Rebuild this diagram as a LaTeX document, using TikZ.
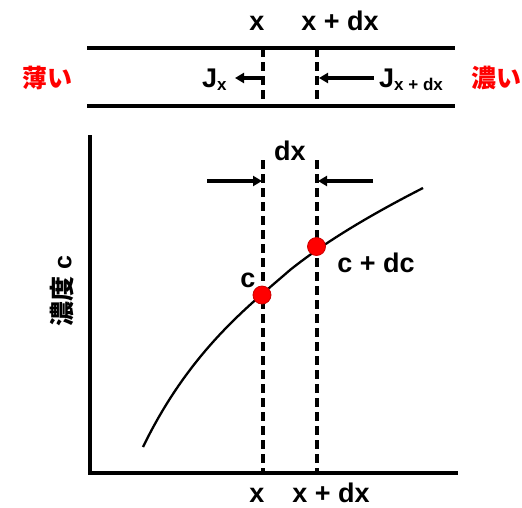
\documentclass[tikz,border=0pt]{standalone}
\usepackage{fontspec}
\setmainfont{Liberation Sans}
\newfontfamily\jpfont{Noto Sans CJK JP}
\usetikzlibrary{arrows.meta}
\tikzset{
  lbl/.style={font=\fontsize{27}{28}\selectfont\bfseries, inner sep=0pt},
  jp/.style={font=\fontsize{25}{26}\selectfont\jpfont\bfseries, inner sep=0pt, text=red},
  solidline/.style={line width=3.4pt},
  dashline/.style={line width=3.1pt, dash pattern=on 9pt off 5pt},
  flux/.style={line width=3.2pt, -{Triangle[length=9pt,width=10pt]}},
  pt/.style={circle, fill=red, draw=red!80!black, line width=0.8pt, minimum size=18pt, inner sep=0pt},
}
\begin{document}
\begin{tikzpicture}[x=1pt,y=-1pt]
\useasboundingbox (0,0) rectangle (522,507);
% top channel
\coordinate (tl1) at (87,48); \coordinate (tr1) at (455,48);
\coordinate (tl2) at (87,106); \coordinate (tr2) at (455,106);
\draw[solidline] (tl1) -- (tr1);
\draw[solidline] (tl2) -- (tr2);
\coordinate (ta) at (263,48); \coordinate (tb) at (263,106);
\coordinate (tc) at (317,48); \coordinate (td) at (317,106);
\draw[dashline] (ta) -- (tb);
\draw[dashline] (tc) -- (td);
\node[lbl, anchor=base] (tx) at (257,30) {x};
\node[lbl, anchor=base] (txdx) at (340,30) {x + dx};
\node[jp] (usui) at (47,78) {薄い};
\node[jp] (koi) at (496,78) {濃い};
\coordinate (j1s) at (264,78); \coordinate (j1e) at (235,78);
\draw[flux] (j1s) -- (j1e);
\node[lbl, anchor=base west] (jx) at (202,87) {J\textsubscript{\fontsize{17}{17}\selectfont x}};
\coordinate (j2s) at (374,78); \coordinate (j2e) at (319,78);
\draw[flux] (j2s) -- (j2e);
\node[lbl, anchor=base west] (jxdx) at (379,87) {J\textsubscript{\fontsize{17}{17}\selectfont x + dx}};
% graph
\coordinate (ax0) at (90,135); \coordinate (org) at (90,473); \coordinate (ax1) at (458,473);
\draw[line width=3.4pt] (ax0) -- (org) -- (ax1);
\coordinate (d1a) at (263,160); \coordinate (d1b) at (263,473);
\coordinate (d2a) at (317,160); \coordinate (d2b) at (317,473);
\draw[dashline] (d1a) -- (d1b);
\draw[dashline] (d2a) -- (d2b);
\node[lbl, anchor=base] (dx) at (290,160) {dx};
\coordinate (a1s) at (207,181); \coordinate (a1e) at (262,181);
\draw[flux] (a1s) -- (a1e);
\coordinate (a2s) at (373,181); \coordinate (a2e) at (318,181);
\draw[flux] (a2s) -- (a2e);
\coordinate (c0) at (143,447); \coordinate (c4) at (423,188);
\draw[line width=2.3pt] (c0) .. controls (190,350) and (250,305) .. (290,270) .. controls (330,238) and (380,210) .. (c4);
\node[pt] (p1) at (262,295) {};
\node[pt] (p2) at (316.5,246.5) {};
\node[lbl, anchor=base] (lc) at (248,287) {c};
\node[lbl, anchor=base] (lcdc) at (376,272) {c + dc};
\node[font=\fontsize{25}{26}\selectfont\bfseries, inner sep=0pt, rotate=90] (ylab) at (62,291) {{\jpfont 濃度} c};
\node[lbl, anchor=base] (bx) at (257,502) {x};
\node[lbl, anchor=base] (bxdx) at (331,502) {x + dx};
\end{tikzpicture}
\end{document}
